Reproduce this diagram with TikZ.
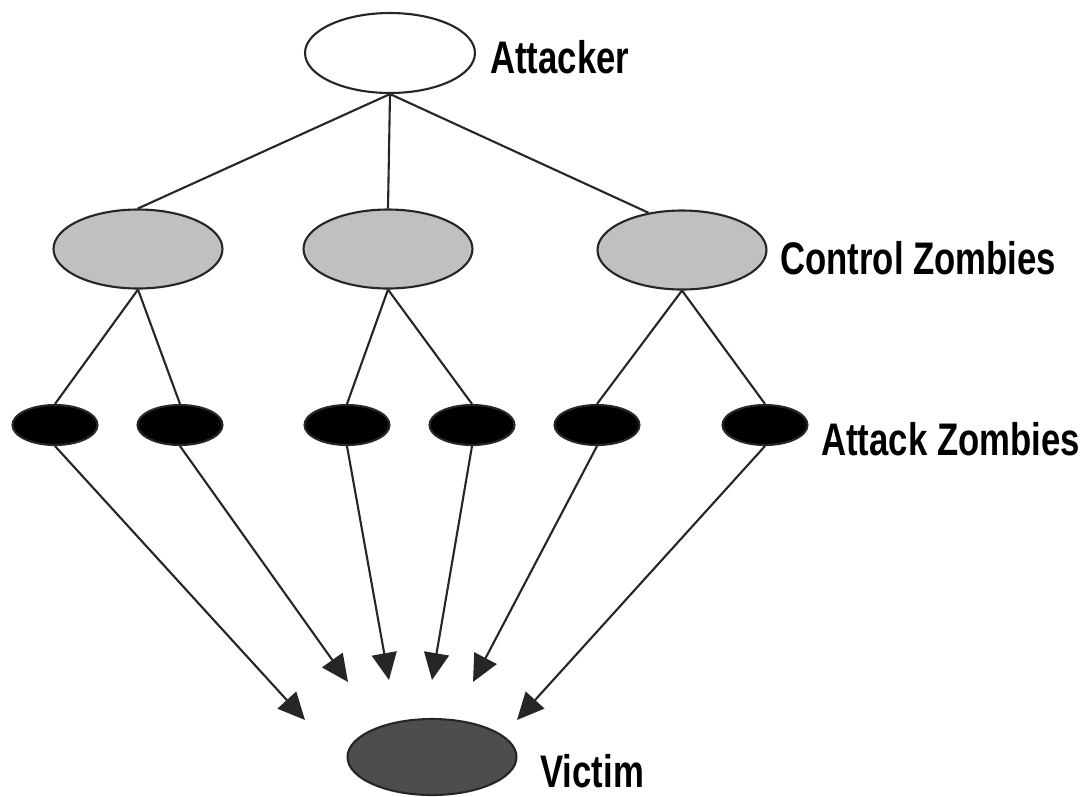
\documentclass[tikz,border=0pt]{standalone}
\usepackage{fontspec}
\newfontfamily\zfont[FakeStretch=0.76]{Liberation Sans}
\usepackage{tikz}
\usetikzlibrary{arrows.meta, shapes.geometric}

\definecolor{ctrlgrey}{HTML}{C0C0C0}
\definecolor{victimgrey}{HTML}{4D4D4D}

\begin{document}
\begin{tikzpicture}[
  x=0.02cm, y=-0.02cm,
  host/.style={draw=black!85, ellipse, line width=1.2pt, inner sep=0pt},
  bigzombie/.style={host, fill=ctrlgrey, minimum width=3.38cm, minimum height=1.58cm},
  smallzombie/.style={host, fill=black, minimum width=1.7cm, minimum height=0.8cm},
  lbl/.style={anchor=west, inner sep=0pt, font=\zfont\bfseries\fontsize{26}{30}\selectfont},
  link/.style={draw=black!85, line width=1.2pt},
  arr/.style={link, -{Triangle[length=5.4mm, width=5mm]}},
]
  \useasboundingbox (0,0) rectangle (1090,796);

  % Attacker
  \node[host, fill=white, minimum width=3.4cm, minimum height=1.6cm] (att) at (390,53) {};
  \node[lbl] (attlbl) at (490,57) {Attacker};

  % Control zombies
  \node[bigzombie] (cz1) at (138,249) {};
  \node[bigzombie] (cz2) at (388,249) {};
  \node[bigzombie] (cz3) at (682,250) {};
  \node[lbl] (czlbl) at (780,258) {Control Zombies};

  % Attack zombies
  \node[smallzombie] (az1) at (55,425) {};
  \node[smallzombie] (az2) at (180,425) {};
  \node[smallzombie] (az3) at (347,425) {};
  \node[smallzombie] (az4) at (472,425) {};
  \node[smallzombie] (az5) at (597,425) {};
  \node[smallzombie] (az6) at (765,425) {};
  \node[lbl] (azlbl) at (821,439) {Attack Zombies};

  % Victim
  \node[host, fill=victimgrey, minimum width=3.38cm, minimum height=1.52cm] (vic) at (432,757) {};
  \node[lbl] (viclbl) at (540,771) {Victim};

  % arrow ends
  \coordinate (t1) at (305,720);
  \coordinate (t2) at (348,682);
  \coordinate (t3) at (389,680);
  \coordinate (t4) at (432,680);
  \coordinate (t5) at (473,682);
  \coordinate (t6) at (517,720);

  % Links
  \draw[link] (att.south) -- (cz1.north);
  \draw[link] (att.south) -- (cz2.north);
  \draw[link] (att.south) -- (cz3.132);

  \draw[link] (cz1.south) -- (az1.north);
  \draw[link] (cz1.south) -- (az2.north);
  \draw[link] (cz2.south) -- (az3.north);
  \draw[link] (cz2.south) -- (az4.north);
  \draw[link] (cz3.south) -- (az5.north);
  \draw[link] (cz3.south) -- (az6.north);

  % Arrows
  \draw[arr] (az1.south) -- (t1);
  \draw[arr] (az2.south) -- (t2);
  \draw[arr] (az3.south) -- (t3);
  \draw[arr] (az4.south) -- (t4);
  \draw[arr] (az5.south) -- (t5);
  \draw[arr] (az6.south) -- (t6);
\end{tikzpicture}
\end{document}
